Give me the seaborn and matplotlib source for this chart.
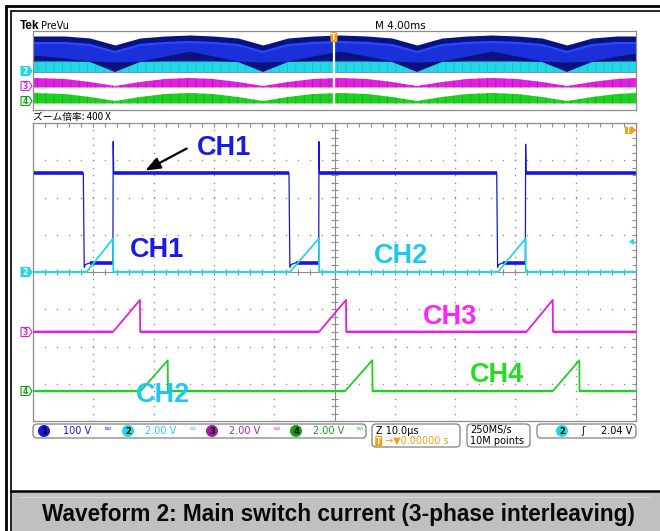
import matplotlib
matplotlib.use("Agg")
import matplotlib.pyplot as plt
from matplotlib.patches import Polygon, FancyBboxPatch, Rectangle
from matplotlib.ticker import MultipleLocator
import seaborn as sns
import numpy as np
import pandas as pd

# ---- scope traces: time in us (10 us/div), level in divisions ----
ch1_t = [0, 8.34, 8.5, 8.7, 9.5, 13.25, 13.3, 13.38, 42.45, 42.6, 42.8, 43.6,
         47.38, 47.43, 47.5, 76.9, 77.05, 77.25, 78.0, 81.65, 81.7, 81.78, 100]
ch1_v = [2.66, 2.66, 0.12, 0.2, 0.25, 0.25, 3.5, 2.66, 2.66, 0.12, 0.2, 0.25,
         0.25, 3.5, 2.66, 2.66, 0.12, 0.2, 0.25, 0.25, 3.43, 2.66, 2.66]
ch2_t = [0, 8.9, 13.3, 13.32, 42.6, 47.43, 47.45, 77.1, 81.7, 81.72, 100]
ch2_v = [0, 0, 0.9, 0, 0, 0.9, 0, 0, 0.9, 0, 0]
ch3_t = [0, 13.32, 17.74, 17.78, 47.48, 51.91, 51.95, 81.87, 86.19, 86.23, 100]
ch3_v = [-1.6, -1.6, -0.75, -1.6, -1.6, -0.75, -1.6, -1.6, -0.75, -1.6, -1.6]
ch4_t = [0, 17.84, 22.34, 22.38, 51.74, 56.27, 56.31, 86.19, 90.6, 90.64, 100]
ch4_v = [-3.2, -3.2, -2.37, -3.2, -3.2, -2.37, -3.2, -3.2, -2.37, -3.2, -3.2]

# ---- PreVu envelopes (screen pixels) ----
prevu_x = [33, 65, 90, 115, 140, 165, 190, 213, 238, 263, 288, 313, 340,
           367, 392, 417, 442, 467, 492, 517, 542, 567, 592, 617, 636]
blue_top = [36, 36, 38, 45, 38, 36, 35, 36, 38, 45, 38, 36, 35,
            36, 38, 45, 38, 36, 35, 36, 38, 45, 38, 36, 36]
navy_arch = [55, 58, 61, 62, 61, 56, 51, 56, 61, 62, 61, 56, 51,
             56, 61, 62, 61, 56, 51, 56, 61, 62, 61, 56, 53]
cyan_top = [61.5, 61.5, 62, 72, 62, 61.5, 61.5, 61.5, 62, 72, 62, 61.5, 61.5,
            61.5, 62, 72, 62, 61.5, 61.5, 61.5, 62, 72, 62, 61.5, 61.5]
mag_top = [78, 79, 82, 86, 82, 79, 78, 79, 82, 86, 82, 79, 78,
           79, 82, 86, 82, 79, 78, 79, 82, 86, 82, 79, 78]
green_top = [93, 94, 97, 101, 97, 94, 93, 94, 97, 101, 97, 94, 93,
             94, 97, 101, 97, 94, 93, 94, 97, 101, 97, 94, 93]

labels = ["CH1", "CH1", "CH2", "CH3", "CH4", "CH2"]
label_t = [31.7, 20.5, 61.0, 69.2, 76.9, 21.5]
label_v = [3.33, 0.6, 0.43, -1.21, -2.77, -3.3]
label_col = ["#1a1ae6", "#1a1ae6", "#1ec8f0", "#ff22ff", "#22dd22", "#1ec8f0"]

BLUE, CYAN, MAG, GREEN = "#1616e0", "#22d8e4", "#e020e0", "#20d020"
W, H = 660, 531

sns.set_style("white")
plt.rcParams["font.family"] = ["DejaVu Sans", "Noto Sans CJK JP"]
plt.rcParams["text.color"] = "black"
plt.rcParams["hatch.linewidth"] = 0.6


def fr(x, y, w, h):
    return [x / W, 1 - (y + h) / H, w / W, h / H]


def draw_trace(ax, t, v, color, lw_edge, lw_flat):
    df = pd.DataFrame({"t": t, "v": v})
    sns.lineplot(data=df, x="t", y="v", ax=ax, color=color, lw=lw_edge,
                 estimator=None, sort=False)
    for i in range(len(t) - 1):
        if v[i] == v[i + 1]:
            ax.plot([t[i], t[i + 1]], [v[i], v[i + 1]], color=color,
                    lw=lw_flat, solid_capstyle="butt")


fig = plt.figure(figsize=(6.6, 5.31), dpi=100)

# main graticule
ax = fig.add_axes(fr(33, 123, 603, 298))
ax.set_xlim(0, 100)
ax.set_ylim(-4, 4)
for s in ax.spines.values():
    s.set_color("#8c8c8c")
    s.set_linewidth(0.9)
ax.xaxis.set_major_locator(MultipleLocator(10))
ax.xaxis.set_minor_locator(MultipleLocator(2))
ax.yaxis.set_major_locator(MultipleLocator(1))
ax.yaxis.set_minor_locator(MultipleLocator(0.2))
ax.tick_params(which="both", direction="in", top=True, right=True,
               labelbottom=False, labelleft=False, color="#8c8c8c",
               length=3, width=0.8)
gx = np.arange(0, 100.1, 2)
gy = np.arange(-4, 4.01, 0.2)
for yy in range(-3, 4):
    if yy != 0:
        ax.plot(gx, np.full_like(gx, yy), ls="none", marker="s", ms=1.0,
                color="#909090", mew=0)
for xx in range(10, 100, 10):
    if xx != 50:
        ax.plot(np.full_like(gy, xx), gy, ls="none", marker="s", ms=1.0,
                color="#909090", mew=0)
ax.axhline(0, color="#8c8c8c", lw=0.8)
ax.axvline(50, color="#8c8c8c", lw=0.8)
ax.vlines(gx, -0.09, 0.09, color="#8c8c8c", lw=0.8)
ax.hlines(gy, 49.4, 50.6, color="#8c8c8c", lw=0.8)

draw_trace(ax, ch1_t, ch1_v, BLUE, 0.9, 2.6)
draw_trace(ax, ch2_t, ch2_v, CYAN, 1.3, 1.6)
draw_trace(ax, ch3_t, ch3_v, MAG, 1.3, 1.6)
draw_trace(ax, ch4_t, ch4_v, GREEN, 1.3, 1.6)
ax.set_xlabel("")
ax.set_ylabel("")

for txt, tx, ty, c in zip(labels, label_t, label_v, label_col):
    ax.text(tx, ty, txt, color=c, fontsize=19.5, fontweight="bold",
            family="Liberation Sans", ha="center", va="center", zorder=10)
ax.annotate("", xy=(18.2, 2.69), xytext=(25.9, 3.35),
            arrowprops=dict(arrowstyle="-|>,head_length=0.9,head_width=0.35",
                            color="black", lw=1.6), zorder=11)

# PreVu strip
pv = fig.add_axes(fr(33, 31, 603, 79))
pv.set_xlim(33, 636)
pv.set_ylim(110, 31)
pv.set_xticks([])
pv.set_yticks([])
for s in pv.spines.values():
    s.set_color("#8c8c8c")
    s.set_linewidth(0.9)
pv.fill_between(prevu_x, blue_top, 72, color="#0a1280", lw=0)
pv.fill_between(prevu_x, [b + 7 for b in blue_top], navy_arch, color="#1a30d8", lw=0)
pv.plot(prevu_x, [b + 7 for b in blue_top], color="#2a48ff", lw=1.6)
pv.fill_between(prevu_x, cyan_top, 72, color=CYAN, lw=0, hatch="||",
                edgecolor="#1cbcc8")
pv.fill_between(prevu_x, mag_top, 87.5, color=MAG, lw=0, hatch="||",
                edgecolor="#b418b4")
pv.fill_between(prevu_x, green_top, 103.5, color=GREEN, lw=0, hatch="||",
                edgecolor="#16b016")
pv.axvline(334, ymin=0, ymax=0.85, color="white", lw=1.6)

# overlay for screen furniture
ov = fig.add_axes([0, 0, 1, 1])
ov.set_xlim(0, W)
ov.set_ylim(H, 0)
ov.axis("off")

# outer frame
ov.plot([6, 6], [6, H], color="black", lw=2)
ov.plot([6, W], [6, 6], color="black", lw=2)
ov.plot([10.5, 10.5], [10.5, H], color="black", lw=1.2)
ov.plot([10.5, W], [10.5, 10.5], color="black", lw=1.2)

# caption
ov.add_patch(Rectangle((12, 491), W - 12, 40, fc="#c0c0c0", ec="none"))
ov.plot([11, W], [490.5, 490.5], color="black", lw=1.8)
ov.plot([20, 650], [497, 497], color="#d8d8d8", lw=0.8)
ov.text(338, 514, "Waveform 2: Main switch current (3-phase interleaving)",
        ha="center", va="center", fontsize=16.3, fontweight="bold",
        family="Liberation Sans", color="#0a0a0a")

# header
ov.text(20, 26, "Tek", fontsize=8.5, fontweight="bold", family="Liberation Sans",
        va="center")
ov.text(41, 26, "PreVu", fontsize=7, va="center")
ov.text(375, 26, "M 4.00ms", fontsize=7.5, va="center")
ov.text(33, 117, "ズーム倍率: 400 X", fontsize=7, va="center",
        family=["Noto Sans CJK JP", "DejaVu Sans"])


def marker(x, y, num, color, filled):
    pts = [(x, y - 4.5), (x + 8, y - 4.5), (x + 11, y), (x + 8, y + 4.5), (x, y + 4.5)]
    ov.add_patch(Polygon(pts, closed=True, fc=color if filled else "white",
                         ec=color, lw=0.8))
    ov.text(x + 4.3, y + 0.3, num, fontsize=5.5, ha="center", va="center",
            color="white" if filled else color, fontweight="bold")


for yy, n, c, f in [(272, "2", CYAN, True), (332, "3", MAG, False), (391, "4", "#10a010", False)]:
    marker(21, yy, n, c, f)
for yy, n, c, f in [(71, "2", CYAN, True), (86, "3", MAG, False), (101, "4", "#10a010", False)]:
    marker(21, yy, n, c, f)

ORANGE = "#f5a010"
# trigger markers
ov.add_patch(FancyBboxPatch((330.5, 32), 7, 10, boxstyle="round,pad=0,rounding_size=1.5",
                            fc=ORANGE, ec="none"))
ov.text(334, 37.5, "T", fontsize=5.5, color="white", ha="center", va="center",
        fontweight="bold")
ov.add_patch(FancyBboxPatch((625, 126), 8, 8, boxstyle="round,pad=0,rounding_size=1.5",
                            fc=ORANGE, ec="none"))
ov.add_patch(Polygon([(633, 127.5), (636, 130), (633, 132.5)], fc=ORANGE, ec="none"))
ov.text(629, 130.3, "T", fontsize=5.5, color="white", ha="center", va="center",
        fontweight="bold")
ov.add_patch(Polygon([(629, 241.7), (634, 238.5), (634, 245)], fc=CYAN, ec="none"))


# status bar
def box(x, y, w, h):
    ov.add_patch(FancyBboxPatch((x, y), w, h, boxstyle="round,pad=0,rounding_size=4",
                                fc="white", ec="#707070", lw=0.8))


def badge(x, y, num, color, tcol="black"):
    ov.text(x, y, num, fontsize=6, ha="center", va="center", color=tcol,
            fontweight="bold",
            bbox=dict(boxstyle="circle,pad=0.18", fc=color, ec="none"))


box(33, 424, 333, 14)
box(372, 424, 88, 23)
box(467, 424, 63, 23)
box(537, 424, 99, 14)
fs = 7
badge(44, 431, "1", BLUE)
ov.text(63, 431, "100 V", fontsize=fs, color=BLUE, va="center")
badge(128, 431, "2", CYAN)
ov.text(145, 431, "2.00 V", fontsize=fs, color=CYAN, va="center")
badge(212, 431, "3", "#a020a0")
ov.text(229, 431, "2.00 V", fontsize=fs, color="#b020b0", va="center")
badge(296, 431, "4", "#10a010")
ov.text(313, 431, "2.00 V", fontsize=fs, color="#10a010", va="center")
for bx, bc in [(108, BLUE), (193, CYAN), (277, MAG), (360, GREEN)]:
    ov.text(bx, 431, "ᴮᵂ", fontsize=5, color=bc, va="center", ha="center")
ov.text(376, 430.5, "Z 10.0µs", fontsize=fs, va="center")
ov.text(376, 441, "T", fontsize=5.5, va="center", color="white", fontweight="bold",
        bbox=dict(boxstyle="round,pad=0.1", fc=ORANGE, ec="none"))
ov.text(385, 441, "→▼0.00000 s", fontsize=fs, va="center", color=ORANGE)
ov.text(470, 430.5, "250MS/s", fontsize=fs, va="center")
ov.text(470, 441, "10M points", fontsize=fs, va="center")
badge(562, 431, "2", CYAN)
ov.text(583, 431, "ʃ", fontsize=fs, va="center", ha="center")
ov.text(601, 431, "2.04 V", fontsize=fs, va="center")

fig.savefig("out.png", dpi=100)
